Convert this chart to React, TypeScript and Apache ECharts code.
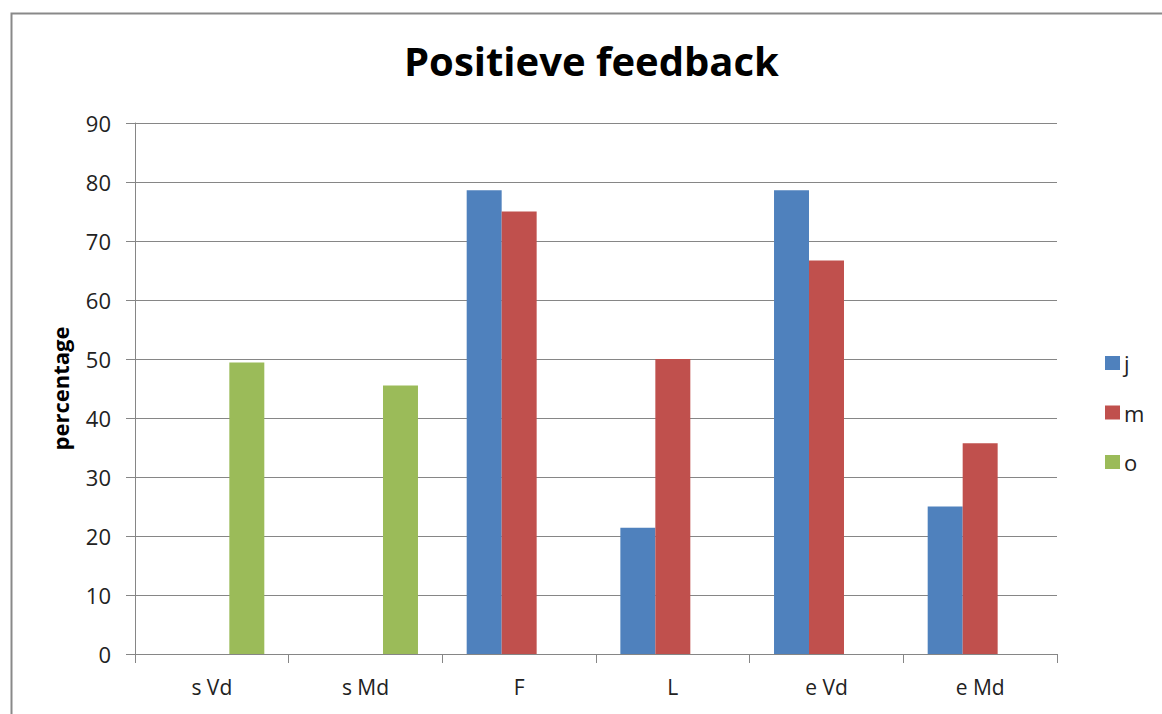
import React, { useEffect, useRef } from "react";
import * as echarts from "echarts";

const categories = ["s Vd", "s Md", "F", "L", "e Vd", "e Md"];
const seriesNames = ["j", "m", "o"];
const jValues = [null, null, 78.6, 21.4, 78.6, 25];
const mValues = [null, null, 75, 50, 66.7, 35.7];
const oValues = [49.4, 45.5, null, null, null, null];
const colors = ["#4F81BD", "#C0504D", "#9BBB59"];
const yTicks = { min: 0, max: 90, interval: 10 };

const FONT = "'Open Sans', 'Liberation Sans', sans-serif";

export default function App() {
  const ref = useRef<HTMLDivElement>(null);
  useEffect(() => {
    if (!ref.current) return;
    const chart = echarts.init(ref.current, null, { renderer: "svg" });
    const dataSets = [jValues, mValues, oValues];
    chart.setOption({
      animation: false,
      backgroundColor: "#ffffff",
      textStyle: { fontFamily: FONT },
      title: {
        text: "Positieve feedback",
        left: 399,
        top: 35,
        textStyle: { fontFamily: FONT, fontWeight: "bold", fontSize: 40, color: "#000000" },
      },
      graphic: [
        {
          type: "rect",
          left: 9,
          top: 11,
          shape: { width: 1300, height: 900 },
          style: { fill: "none", stroke: "#898989", lineWidth: 2 },
          silent: true,
        },
      ],
      legend: {
        orient: "vertical",
        left: 1100,
        top: 347,
        itemWidth: 15,
        itemHeight: 14,
        itemGap: 27.5,
        icon: "rect",
        data: seriesNames,
        textStyle: { fontFamily: FONT, fontSize: 22, color: "#222222", lineHeight: 22, padding: [0, 0, 0, -1] },
      },
      grid: { left: 135, right: 105, top: 123, bottom: 60, containLabel: false },
      xAxis: {
        type: "category",
        data: categories,
        boundaryGap: true,
        axisLine: { lineStyle: { color: "#868686", width: 1 } },
        axisTick: { show: true, alignWithLabel: false, length: 9, lineStyle: { color: "#868686" } },
        axisLabel: { fontFamily: FONT, fontSize: 21, color: "#222222", margin: 22 },
      },
      yAxis: {
        type: "value",
        min: yTicks.min,
        max: yTicks.max,
        interval: yTicks.interval,
        name: "percentage",
        nameLocation: "middle",
        nameGap: 64,
        nameRotate: 90,
        nameTextStyle: { fontFamily: FONT, fontWeight: "bold", fontSize: 22, color: "#000000" },
        axisLine: { show: true, lineStyle: { color: "#868686", width: 1 } },
        axisTick: { show: true, inside: false, length: 9, lineStyle: { color: "#868686" } },
        axisLabel: { fontFamily: FONT, fontSize: 22, color: "#222222", margin: 24 },
        splitLine: { show: true, lineStyle: { color: "#868686", width: 1 } },
      },
      series: seriesNames.map((name, i) => ({
        name,
        type: "bar",
        data: dataSets[i],
        barGap: "0%",
        barCategoryGap: "31.7%",
        itemStyle: { color: colors[i] },
      })),
    });
    return () => chart.dispose();
  }, []);
  return (
    <div
      ref={ref}
      style={{ position: "fixed", left: 0, top: 0, width: 1162, height: 714 }}
    />
  );
}
